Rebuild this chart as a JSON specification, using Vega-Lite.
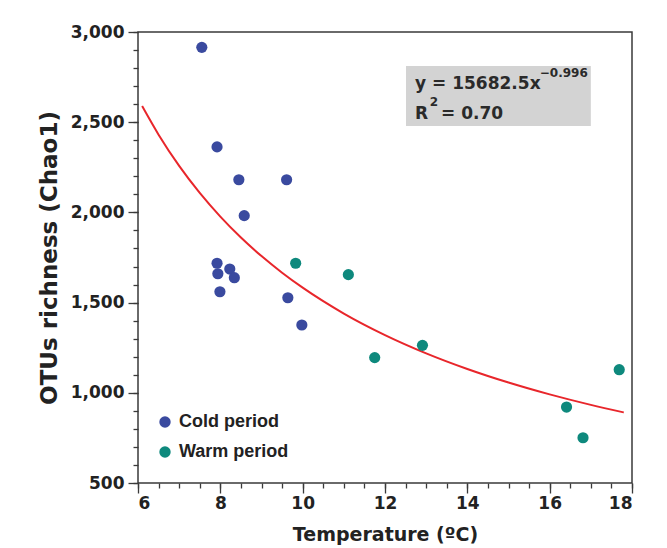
{
  "$schema": "https://vega.github.io/schema/vega-lite/v6.json",
  "width": 494,
  "height": 451,
  "autosize": {"type": "none"},
  "padding": {"left": 138, "top": 32, "right": 35, "bottom": 65},
  "background": "white",
  "config": {
    "view": {"stroke": "#3a3a3a", "strokeWidth": 1.5},
    "font": "DejaVu Sans",
    "axis": {
      "grid": false,
      "domain": false,
      "tickColor": "#3a3a3a",
      "tickWidth": 1.3,
      "labelFont": "DejaVu Sans",
      "labelFontWeight": "bold",
      "labelFontSize": 17,
      "labelColor": "#222222",
      "titleFont": "DejaVu Sans",
      "titleFontWeight": "bold",
      "titleFontSize": 19,
      "titleColor": "#222222"
    }
  },
  "datasets": {
    "points": [
      {"temp": 7.55, "otus": 2915, "period": "Cold period"},
      {"temp": 7.92, "otus": 2363, "period": "Cold period"},
      {"temp": 8.45, "otus": 2181, "period": "Cold period"},
      {"temp": 9.61, "otus": 2181, "period": "Cold period"},
      {"temp": 8.58, "otus": 1982, "period": "Cold period"},
      {"temp": 7.92, "otus": 1718, "period": "Cold period"},
      {"temp": 7.94, "otus": 1660, "period": "Cold period"},
      {"temp": 8.23, "otus": 1686, "period": "Cold period"},
      {"temp": 8.34, "otus": 1638, "period": "Cold period"},
      {"temp": 7.99, "otus": 1560, "period": "Cold period"},
      {"temp": 9.64, "otus": 1527, "period": "Cold period"},
      {"temp": 9.98, "otus": 1376, "period": "Cold period"},
      {"temp": 9.83, "otus": 1718, "period": "Warm period"},
      {"temp": 11.11, "otus": 1655, "period": "Warm period"},
      {"temp": 11.75, "otus": 1195, "period": "Warm period"},
      {"temp": 12.91, "otus": 1263, "period": "Warm period"},
      {"temp": 16.41, "otus": 921, "period": "Warm period"},
      {"temp": 16.81, "otus": 751, "period": "Warm period"},
      {"temp": 17.69, "otus": 1128, "period": "Warm period"}
    ],
    "curve": [
      {"temp": 6.1, "fit": 2589.6},
      {"temp": 6.5, "fit": 2430.9},
      {"temp": 7, "fit": 2257.9},
      {"temp": 7.5, "fit": 2108.0},
      {"temp": 8, "fit": 1976.8},
      {"temp": 8.5, "fit": 1860.9},
      {"temp": 9, "fit": 1757.9},
      {"temp": 9.5, "fit": 1665.7},
      {"temp": 10, "fit": 1582.8},
      {"temp": 11, "fit": 1439.4},
      {"temp": 12, "fit": 1320.0},
      {"temp": 13, "fit": 1218.8},
      {"temp": 14, "fit": 1132.1},
      {"temp": 15, "fit": 1056.9},
      {"temp": 16, "fit": 991.1},
      {"temp": 17, "fit": 933.0},
      {"temp": 17.8, "fit": 891.2}
    ]
  },
  "layer": [
    {
      "data": {"values": [{}]},
      "mark": {"type": "rect", "color": "#d3d3d3"},
      "encoding": {
        "x": {"datum": 12.51, "type": "quantitative", "axis": null},
        "x2": {"datum": 17.0},
        "y": {"datum": 2812, "type": "quantitative", "axis": null},
        "y2": {"datum": 2479}
      }
    },
    {
      "data": {"values": [{}]},
      "mark": {"type": "text", "align": "left", "baseline": "alphabetic", "font": "DejaVu Sans", "fontWeight": "bold", "fontSize": 17, "color": "#2a2a2a", "text": "y = 15682.5x"},
      "encoding": {
        "x": {"datum": 12.73, "type": "quantitative", "axis": null},
        "y": {"datum": 2684, "type": "quantitative", "axis": null}
      }
    },
    {
      "data": {"values": [{}]},
      "mark": {"type": "text", "align": "left", "baseline": "alphabetic", "font": "DejaVu Sans", "fontWeight": "bold", "fontSize": 12, "color": "#2a2a2a", "text": "−0.996"},
      "encoding": {
        "x": {"datum": 15.76, "type": "quantitative", "axis": null},
        "y": {"datum": 2748, "type": "quantitative", "axis": null}
      }
    },
    {
      "data": {"values": [{}]},
      "mark": {"type": "text", "align": "left", "baseline": "alphabetic", "font": "DejaVu Sans", "fontWeight": "bold", "fontSize": 17, "color": "#2a2a2a", "text": "R"},
      "encoding": {
        "x": {"datum": 12.73, "type": "quantitative", "axis": null},
        "y": {"datum": 2518, "type": "quantitative", "axis": null}
      }
    },
    {
      "data": {"values": [{}]},
      "mark": {"type": "text", "align": "left", "baseline": "alphabetic", "font": "DejaVu Sans", "fontWeight": "bold", "fontSize": 12, "color": "#2a2a2a", "text": "2"},
      "encoding": {
        "x": {"datum": 13.09, "type": "quantitative", "axis": null},
        "y": {"datum": 2590, "type": "quantitative", "axis": null}
      }
    },
    {
      "data": {"values": [{}]},
      "mark": {"type": "text", "align": "left", "baseline": "alphabetic", "font": "DejaVu Sans", "fontWeight": "bold", "fontSize": 17, "color": "#2a2a2a", "text": "= 0.70"},
      "encoding": {
        "x": {"datum": 13.36, "type": "quantitative", "axis": null},
        "y": {"datum": 2518, "type": "quantitative", "axis": null}
      }
    },
    {
      "data": {"name": "curve"},
      "mark": {"type": "line", "color": "#e8262b", "strokeWidth": 2, "interpolate": "monotone"},
      "encoding": {
        "x": {
          "field": "temp", "type": "quantitative",
          "scale": {"domain": [6, 18], "nice": false, "zero": false},
          "axis": {"orient": "bottom", "values": [6,6.5,7,7.5,8,8.5,9,9.5,10,10.5,11,11.5,12,12.5,13,13.5,14,14.5,15,15.5,16,16.5,17,17.5,18], "labels": false, "tickSize": 5, "title": null}
        },
        "y": {
          "field": "fit", "type": "quantitative",
          "scale": {"domain": [500, 3000], "nice": false, "zero": false},
          "axis": {"orient": "left", "values": [500,600,700,800,900,1000,1100,1200,1300,1400,1500,1600,1700,1800,1900,2000,2100,2200,2300,2400,2500,2600,2700,2800,2900,3000], "labels": false, "tickSize": 5, "title": null}
        }
      }
    },
    {
      "data": {"name": "points"},
      "mark": {"type": "circle", "size": 125, "opacity": 1},
      "encoding": {
        "x": {
          "field": "temp", "type": "quantitative",
          "axis": {"orient": "bottom", "values": [6,8,10,12,14,16,18], "tickSize": 10, "labelPadding": 2, "title": "Temperature (ºC)", "titlePadding": 14}
        },
        "y": {
          "field": "otus", "type": "quantitative",
          "axis": {"orient": "left", "values": [500,1000,1500,2000,2500,3000], "format": ",d", "tickSize": 10, "labelPadding": 4, "title": "OTUs richness (Chao1)", "titleFontSize": 23, "titlePadding": 9}
        },
        "color": {
          "field": "period", "type": "nominal",
          "scale": {"domain": ["Cold period", "Warm period"], "range": ["#3a4a9f", "#0e897d"]},
          "legend": {
            "title": null, "orient": "none", "legendX": 18, "legendY": 381, "padding": 0,
            "labelFont": "Liberation Sans", "labelFontWeight": "bold", "labelFontSize": 18, "labelColor": "#222222",
            "symbolType": "circle", "symbolSize": 130, "symbolStrokeWidth": 0, "symbolOpacity": 1,
            "rowPadding": 12, "labelOffset": 5
          }
        }
      }
    }
  ],
  "resolve": {"axis": {"x": "independent", "y": "independent"}}
}
